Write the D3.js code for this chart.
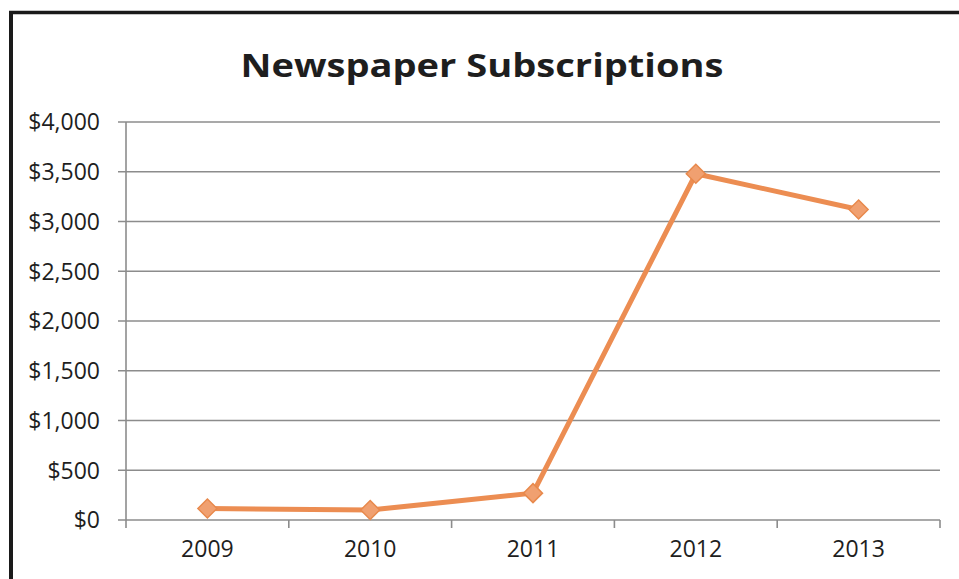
<!DOCTYPE html>
<html>
<head>
<meta charset="utf-8">
<script src="https://cdn.jsdelivr.net/npm/d3@7"></script>
<style>
  html, body { margin: 0; padding: 0; background: #fff; }
  svg { display: block; }
</style>
</head>
<body>
<svg id="chart" width="959" height="579"></svg>
<script>
// Newspaper subscription revenue by year
const years = ["2009", "2010", "2011", "2012", "2013"];
const subscriptions = [115, 100, 270, 3480, 3120];
const yTicks = [0, 500, 1000, 1500, 2000, 2500, 3000, 3500, 4000];
const chartTitle = "Newspaper Subscriptions";

const svg = d3.select("#chart");
const W = 959, H = 579;
const plot = { left: 126, right: 940, top: 122, bottom: 520 };
const font = "'Open Sans', 'Liberation Sans', sans-serif";

// Frame (top and left edges of the chart box)
svg.append("rect").attr("x", 0).attr("y", 0).attr("width", W).attr("height", H).attr("fill", "#fff");
svg.append("line").attr("x1", 9).attr("x2", W).attr("y1", 12.5).attr("y2", 12.5)
  .attr("stroke", "#1a1a1a").attr("stroke-width", 3.5);
svg.append("line").attr("x1", 11).attr("x2", 11).attr("y1", 11).attr("y2", H)
  .attr("stroke", "#1a1a1a").attr("stroke-width", 4);

// Title
svg.append("text")
  .attr("x", 482).attr("y", 77)
  .attr("text-anchor", "middle")
  .attr("font-family", font).attr("font-weight", 700).attr("font-size", 33)
  .attr("fill", "#1e1e1e")
  .attr("textLength", 483).attr("lengthAdjust", "spacingAndGlyphs")
  .text(chartTitle);

const x = d3.scaleBand().domain(years).range([plot.left, plot.right]).padding(0);
const y = d3.scaleLinear().domain([0, 4000]).range([plot.bottom, plot.top]);

// Horizontal gridlines with short ticks left of the axis
const grid = svg.append("g");
grid.selectAll("line").data(yTicks).join("line")
  .attr("x1", plot.left - 8).attr("x2", plot.right)
  .attr("y1", d => y(d)).attr("y2", d => y(d))
  .attr("stroke", "#8c8c8c").attr("stroke-width", 1.6);

// Y axis labels
const yAxis = d3.axisLeft(y).tickValues(yTicks).tickSize(0).tickPadding(0)
  .tickFormat(d => "$" + d3.format(",")(d));
const ya = svg.append("g").attr("transform", `translate(${plot.left - 26},0)`).call(yAxis);
ya.select(".domain").remove();
ya.selectAll("text").attr("font-family", font).attr("font-size", 23).attr("fill", "#1e1e1e")
  .attr("dy", "0.34em");

// Vertical axis line
svg.append("line").attr("x1", plot.left).attr("x2", plot.left)
  .attr("y1", plot.top).attr("y2", plot.bottom + 8)
  .attr("stroke", "#8c8c8c").attr("stroke-width", 1.6);

// Category tick marks at band boundaries
const bounds = years.map(d => x(d)).concat([plot.right]).slice(1);
svg.append("g").selectAll("line").data(bounds).join("line")
  .attr("x1", d => d).attr("x2", d => d)
  .attr("y1", plot.bottom).attr("y2", plot.bottom + 8)
  .attr("stroke", "#8c8c8c").attr("stroke-width", 1.6);

// X axis labels
const xAxis = d3.axisBottom(x).tickSize(0).tickPadding(0);
const xa = svg.append("g").attr("transform", `translate(0,${plot.bottom + 21})`).call(xAxis);
xa.select(".domain").remove();
xa.selectAll("text").attr("font-family", font).attr("font-size", 23).attr("fill", "#1e1e1e")
  .attr("dy", "0.71em");

// Data line
const cx = d => x(d) + x.bandwidth() / 2;
const data = years.map((yr, i) => ({ yr, v: subscriptions[i] }));
svg.append("path").datum(data)
  .attr("fill", "none").attr("stroke", "#EC8D52").attr("stroke-width", 5)
  .attr("stroke-linejoin", "round")
  .attr("d", d3.line().x(d => cx(d.yr)).y(d => y(d.v)));

// Diamond markers
const diamond = d3.symbol().type(d3.symbolDiamond2).size(230);
svg.append("g").selectAll("path").data(data).join("path")
  .attr("transform", d => `translate(${cx(d.yr)},${y(d.v)})`)
  .attr("d", diamond)
  .attr("fill", "#F0A070").attr("stroke", "#E8894C").attr("stroke-width", 1.5);
</script>
</body>
</html>
